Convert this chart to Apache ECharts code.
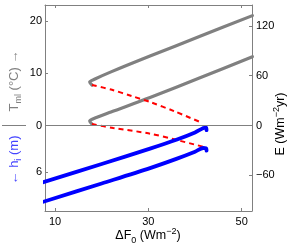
<!DOCTYPE html>
<html>
<head>
<meta charset="utf-8">
<script src="https://cdn.jsdelivr.net/npm/echarts@6/dist/echarts.min.js"></script>
<style>html,body{margin:0;padding:0;background:#fff}#c{width:298px;height:249px}</style>
</head>
<body>
<div id="c"></div>
<script>
// ---- data (ΔF0 in W m^-2, E in W m^-2 yr) ----
const iceFreeUpper = [[17.93,48.8],[17.43,52.4],[18.57,56.0],[22.0,64.6],[30.36,83.7],[41.07,107.5],[52.3,132.4]];
const iceFreeLower = [[17.93,1.8],[17.43,5.4],[18.57,9.0],[22.0,16.3],[30.36,33.7],[41.07,57.5],[52.3,82.9]];
const unstableUpper = [[17.93,48.8],[22.21,43.0],[26.43,35.5],[30.36,28.3],[35.71,16.9],[41.07,4.2]];
const unstableLower = [[17.93,1.8],[22.49,-3.0],[29.99,-9.4],[35.71,-16.9],[41.71,-25.5]];
const iceUpper = [[7.5,-68.3],[20.0,-46.4],[30.36,-27.9],[36.0,-17.2],[40.0,-8.4],[41.8,-3.0],[42.36,-2.6],[42.47,-5.6]];
const iceLower = [[7.5,-91.9],[20.0,-69.8],[30.36,-51.3],[36.0,-40.2],[40.0,-31.6],[41.8,-27.1],[42.36,-27.3],[42.47,-30.3]];

// ---- ticks ----
const xTicks = [10, 30, 50];
const eTicks = [-60, 0, 60, 120];
const tTicks = [0, 10, 20];   // T_ml (°C), upward
const hTicks = [6];           // h_i (m), downward
const T_TO_E = 6.28, H_TO_E = 9.4;

const leftVals = tTicks.map(t => t * T_TO_E).concat(hTicks.map(h => -h * H_TO_E));
const leftLabs = tTicks.map(String).concat(hTicks.map(String));
const leftFmt = v => { let bi = 0, bd = 1e9; leftVals.forEach((lv, i) => { const d = Math.abs(lv - v); if (d < bd) { bd = d; bi = i; } }); return leftLabs[bi]; };

const FONT = 'Liberation Sans, Arial, Helvetica, sans-serif';
const AX = '#808080';
const tickFont = { color: '#000', fontSize: 11, fontFamily: FONT };

const chart = echarts.init(document.getElementById('c'), null, { renderer: 'canvas' });
const lineBase = { type: 'line', showSymbol: false, symbol: 'none', animation: false, silent: true, smooth: 0.3, smoothMonotone: 'none', xAxisIndex: 0, yAxisIndex: 0 };

chart.setOption({
  animation: false,
  backgroundColor: '#fff',
  grid: { left: 45, right: 46, top: 5, bottom: 38, containLabel: false },
  xAxis: [
    { type: 'value', position: 'bottom', min: 7.857, max: 52.21,
      axisLine: { show: true, onZero: false, lineStyle: { color: AX, width: 1 } },
      axisTick: { show: true, inside: true, length: 3, customValues: xTicks, lineStyle: { color: AX } },
      axisLabel: { show: true, customValues: xTicks, margin: 5, ...tickFont },
      splitLine: { show: false } },
    { type: 'value', position: 'top', min: 7.857, max: 52.21,
      axisLine: { show: true, onZero: false, lineStyle: { color: AX, width: 1 } },
      axisTick: { show: true, inside: true, length: 3, customValues: xTicks, lineStyle: { color: AX } },
      axisLabel: { show: false }, splitLine: { show: false } }
  ],
  yAxis: [
    { type: 'value', position: 'right', min: -103.0, max: 145.2,
      axisLine: { show: true, onZero: false, lineStyle: { color: AX, width: 1 } },
      axisTick: { show: true, inside: true, length: 3, customValues: eTicks, lineStyle: { color: AX } },
      axisLabel: { show: true, customValues: eTicks, margin: 4, ...tickFont, formatter: v => (v < 0 ? '\u2212' + Math.abs(v) : String(v)) },
      splitLine: { show: false } },
    { type: 'value', position: 'left', min: -103.0, max: 145.2,
      axisLine: { show: true, onZero: false, lineStyle: { color: AX, width: 1 } },
      axisTick: { show: true, inside: true, length: 3, customValues: leftVals, lineStyle: { color: AX } },
      axisLabel: { show: true, customValues: leftVals, margin: 3, ...tickFont, formatter: leftFmt },
      splitLine: { show: false } }
  ],
  series: [
    { ...lineBase, data: iceFreeUpper, lineStyle: { color: '#808080', width: 3.2, cap: 'round', join: 'round' },
      markLine: { silent: true, symbol: 'none', label: { show: false }, animation: false,
        lineStyle: { color: '#808080', width: 1, type: 'solid' }, data: [{ yAxis: 0 }] } },
    { ...lineBase, data: iceFreeLower, lineStyle: { color: '#808080', width: 3.2, cap: 'round', join: 'round' } },
    { ...lineBase, data: unstableUpper, lineStyle: { color: '#ff0000', width: 2, type: [5, 4] } },
    { ...lineBase, data: unstableLower, lineStyle: { color: '#ff0000', width: 2, type: [5, 4] } },
    { ...lineBase, data: iceUpper, lineStyle: { color: '#0000ff', width: 3.8, cap: 'round', join: 'round' } },
    { ...lineBase, data: iceLower, lineStyle: { color: '#0000ff', width: 3.8, cap: 'round', join: 'round' } }
  ],
  graphic: [
    { type: 'text', x: 148, y: 236, silent: true,
      style: { text: '{n|\u0394F}{sub|0}{n| (Wm}{sup|\u22122}{n|)}', align: 'center', verticalAlign: 'middle',
        rich: {
          n: { fontSize: 12.5, fontFamily: FONT, fill: '#000', lineHeight: 18, verticalAlign: 'middle' },
          sub: { fontSize: 9, fontFamily: FONT, fill: '#000', lineHeight: 18, verticalAlign: 'bottom' },
          sup: { fontSize: 9, fontFamily: FONT, fill: '#000', lineHeight: 18, verticalAlign: 'top' }
        } } },
    { type: 'text', x: 281, y: 124, rotation: Math.PI / 2, silent: true,
      style: { text: '{n|E (Wm}{sup|\u22122}{n|yr)}', align: 'center', verticalAlign: 'middle',
        rich: {
          n: { fontSize: 12.5, fontFamily: FONT, fill: '#000', lineHeight: 18, verticalAlign: 'middle' },
          sup: { fontSize: 9, fontFamily: FONT, fill: '#000', lineHeight: 18, verticalAlign: 'top' }
        } } },
    { type: 'text', x: 14, y: 81, rotation: Math.PI / 2, silent: true,
      style: { text: '{n|T}{sub|ml}{n| (\u00B0C) \u2192}', align: 'center', verticalAlign: 'middle',
        rich: {
          n: { fontSize: 13, fontFamily: FONT, fill: '#808080', lineHeight: 18, verticalAlign: 'middle' },
          sub: { fontSize: 9, fontFamily: FONT, fill: '#808080', lineHeight: 18, verticalAlign: 'bottom' }
        } } },
    { type: 'text', x: 14, y: 160, rotation: Math.PI / 2, silent: true,
      style: { text: '{n|\u2190 h}{sub|i}{n| (m)}', align: 'center', verticalAlign: 'middle',
        rich: {
          n: { fontSize: 13, fontFamily: FONT, fill: '#4444ff', lineHeight: 18, verticalAlign: 'middle' },
          sub: { fontSize: 9, fontFamily: FONT, fill: '#4444ff', lineHeight: 18, verticalAlign: 'bottom' }
        } } },
    { type: 'line', silent: true, shape: { x1: 2, y1: 125.5, x2: 26, y2: 125.5 }, style: { stroke: '#808080', lineWidth: 1 } }
  ]
});
</script>
</body>
</html>
